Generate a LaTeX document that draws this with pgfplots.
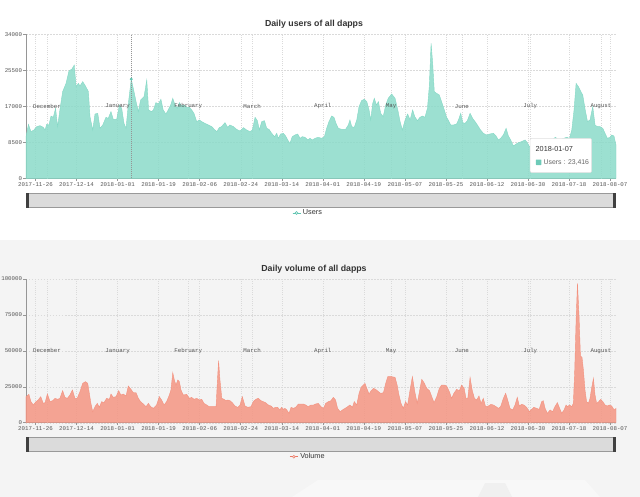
\documentclass[border=0pt]{standalone}
\usepackage{fontspec}
\setmainfont{Liberation Sans}
\newfontfamily\monofont{Liberation Mono}
\usepackage{pgfplots}
\usepackage{pgfplotstable}
\pgfplotsset{compat=1.18}

\definecolor{usersfill}{RGB}{139,219,201}
\definecolor{usersdark}{RGB}{94,196,176}
\definecolor{volfill}{RGB}{244,149,131}
\definecolor{voldark}{RGB}{235,120,100}
\definecolor{bggray}{RGB}{244,244,244}
\definecolor{axisgray}{RGB}{150,150,150}
\definecolor{gridgray}{RGB}{218,218,218}
\definecolor{monthgray}{RGB}{218,218,218}
\definecolor{labelgray}{RGB}{85,85,85}
\definecolor{titlegray}{RGB}{51,51,51}

% day index: 0 = 2017-11-26
\pgfplotstableread{
day users
-4.17 9800
-3.1 12750
-2.0 11010
-0.7 11400
0.5 12190
2.0 12430
3.4 12030
4.2 11400
4.9 12740
5.9 12590
6.8 14710
7.8 14400
8.8 16520
9.7 12190
10.7 16130
11.9 20460
13.4 22420
14.7 25400
15.9 25730
17.0 26750
17.8 21640
18.8 22420
19.5 21800
20.7 22820
21.9 21800
23.2 20460
23.9 14550
25.1 11400
26.1 15180
27.3 15340
28.3 11800
29.5 12590
30.9 14400
31.9 14160
33.1 15730
34.1 13930
35.6 13930
36.8 17310
37.8 16530
38.8 12980
39.7 11800
40.9 18490
42.0 23416
43.2 20460
44.1 18090
45.1 15740
46.1 18490
47.6 19280
48.8 23210
49.6 16130
50.9 15740
51.7 16130
52.8 17860
53.9 17550
55.0 18650
56.0 16130
57.2 15180
58.2 16130
59.3 17310
60.2 18880
61.2 17310
62.2 16530
63.1 17860
64.1 17070
65.1 17310
66.3 16760
67.5 16760
68.5 16130
69.5 15340
70.7 13380
71.9 13770
72.9 13380
74.3 12980
75.8 12590
77.3 12190
78.4 11560
79.5 11010
80.6 11960
81.6 12190
83.1 13140
84.3 12030
85.3 12590
86.8 12190
88.2 11560
89.7 11170
91.2 11960
92.6 11400
94.1 11010
95.1 11400
96.3 14400
97.3 13610
98.2 11400
99.2 13380
100.4 13610
101.4 11800
102.4 11560
103.6 10620
104.8 9830
105.8 10620
106.5 9440
107.5 10460
108.7 10620
109.7 9990
110.6 9050
111.6 8260
112.6 9830
113.8 10230
115.0 10460
116.0 9440
117.0 9830
118.2 9680
119.4 9050
120.4 9440
121.4 9050
122.6 9440
124.0 9680
125.5 9440
126.7 9830
127.7 11800
128.7 13380
129.9 14710
130.9 14400
131.8 12980
132.8 11800
134.3 11560
136.0 11560
137.2 12590
137.9 13770
138.7 12190
139.8 12030
140.9 13770
141.9 16920
143.0 18330
144.2 18650
145.3 18090
146.3 16130
147.0 13770
147.9 17700
148.6 18880
149.5 17310
150.4 18090
151.4 15340
152.5 14550
153.6 17310
154.7 18880
156.2 19910
157.7 18880
158.9 16130
159.9 13380
160.9 11400
162.1 13770
163.2 15180
164.3 13800
165.4 16130
166.4 14500
167.5 13610
168.6 14400
169.8 14710
170.8 14400
171.9 16520
172.7 21640
173.5 31860
174.2 27140
174.9 20460
175.9 20070
177.1 19670
178.1 18090
179.2 16290
180.3 14400
181.0 13770
182.1 12590
183.3 12590
184.7 12830
185.5 13770
186.5 15340
187.4 13140
188.4 12980
189.4 13610
190.6 15340
191.7 14160
192.8 13380
193.8 12590
195.0 11560
196.4 10620
197.9 10230
199.3 10460
200.8 10620
202.0 9990
203.0 9050
204.0 9440
205.2 10230
206.4 11800
207.4 9990
208.4 9050
209.6 7630
210.8 8100
211.8 8420
213.2 8660
214.7 9050
215.7 8420
216.6 7500
218.0 7800
220.0 8600
222.0 8300
224.0 8900
226.0 8700
228.0 9700
229.5 9000
231.0 9300
233.0 9700
234.2 9400
235.2 11400
236.2 16130
237.1 22420
238.1 21640
239.2 20460
240.0 19670
241.1 16130
242.1 13380
243.2 13770
244.4 16920
245.4 12590
246.4 12190
247.6 12190
248.8 11800
249.8 10620
250.8 9440
252.0 9680
252.7 10230
253.7 9990
254.6 7870
}\userstable

\pgfplotstableread{
day volume
-4.17 18100
-2.9 19720
-2.0 14640
-1.0 12320
0.2 14640
1.2 15800
2.3 18120
3.4 13470
4.2 13940
5.2 19970
6.4 14640
7.5 15330
8.6 16960
9.7 16260
10.7 16960
11.9 22290
12.9 17650
14.0 16960
15.1 19280
16.2 22750
17.3 16960
18.3 16960
19.5 21600
20.7 27400
21.9 28560
22.9 27400
23.6 20440
24.3 13470
25.1 7680
26.1 11160
27.1 13470
28.0 10690
29.0 14640
30.0 13940
31.2 16960
32.4 16260
33.1 19970
34.1 17650
35.3 18120
36.5 22290
37.4 19280
38.5 19970
39.7 18580
40.7 25530
41.9 23200
42.9 20880
44.1 20880
45.1 16960
46.1 14640
47.3 13010
48.5 11160
49.5 13470
50.5 11160
51.7 9990
53.1 12320
54.3 18120
55.3 15800
56.4 12320
57.5 14640
58.7 19280
59.4 22750
60.2 34800
60.9 29690
61.6 26210
62.4 29690
63.1 28560
63.8 22750
64.8 19280
66.3 19720
67.5 16960
68.5 17650
69.5 16260
70.7 16960
71.9 15800
72.9 16260
73.9 13470
75.1 12320
76.2 11160
77.3 11160
78.0 11160
79.2 11160
79.8 29690
80.3 43150
80.9 29690
81.7 16960
82.7 16260
83.5 15330
84.3 15800
85.3 15330
86.3 13940
87.5 11620
88.7 10690
89.7 12320
90.7 18120
91.9 11620
93.1 10690
94.5 11160
95.5 14640
96.6 16260
97.7 16960
98.9 15330
99.9 14640
100.9 13940
102.1 12320
103.3 11620
104.3 9990
105.3 10690
106.2 10690
107.2 8860
107.9 10690
108.7 9300
109.4 9990
110.2 8860
111.2 6520
112.1 10690
113.1 9990
114.1 10690
115.3 13010
116.4 13010
117.5 13010
118.5 12320
119.6 11160
120.8 12320
121.9 12320
122.9 13010
124.0 13470
125.2 11160
126.3 9990
127.3 13470
128.4 14640
129.6 15330
130.6 17650
131.6 15800
132.5 9990
133.6 7680
135.0 9300
136.5 10690
137.9 12320
139.0 10690
139.8 14640
140.9 12320
141.9 20440
142.8 24590
143.8 26210
144.5 27400
145.3 23890
146.3 19970
147.2 22290
148.2 23890
149.2 23200
150.4 21600
151.4 20440
152.6 20880
153.6 27400
154.5 32050
156.2 32050
157.7 31550
158.6 26210
159.4 19280
160.3 13470
161.3 9990
162.3 14640
163.2 12320
164.2 22000
165.3 32050
166.3 22000
167.4 13470
168.4 21600
169.4 30160
170.4 27850
171.6 23890
172.8 22290
173.8 18120
174.8 13940
176.0 18120
177.1 23890
178.1 26210
179.3 26210
180.3 25530
181.5 21600
182.5 16960
183.5 20440
184.7 23200
185.9 22290
186.9 26210
188.0 23890
188.8 16960
189.6 16960
190.6 31550
191.5 22750
192.5 16960
193.5 15800
194.5 18580
195.4 13470
196.4 16960
197.4 11160
198.6 11620
199.8 12780
200.8 12320
202.0 11160
203.0 9990
204.0 11160
205.2 16960
206.2 20440
207.1 15800
208.1 9990
209.3 8860
210.3 12320
211.3 17650
212.2 11620
213.2 12780
214.2 12320
215.4 10690
216.6 7680
217.6 9300
218.6 10690
219.8 9990
220.9 9300
222.0 14640
222.7 15330
223.5 9990
224.5 6520
225.7 8860
226.8 7680
227.8 11160
228.9 13940
229.7 10690
230.8 6520
231.8 8860
232.7 12320
233.3 11160
234.2 12320
235.2 11160
235.9 13470
236.5 36650
237.1 71450
237.7 96960
238.4 73770
239.0 46390
239.7 45470
240.3 36650
241.0 22750
241.7 14640
242.5 13470
243.2 16960
243.9 23890
244.7 30850
245.4 19280
246.1 13470
247.0 14640
247.9 16260
248.8 14640
249.8 12320
250.8 11620
251.7 12320
252.7 11620
253.8 8860
254.6 9990
}\volumetable

\tikzset{monthlabel/.style={font=\monofont\fontsize{5.8}{7}\selectfont, text=labelgray}}

\pgfplotsset{
  dapp/.style={
    scale only axis, width=590bp,
    xmin=-4.17, xmax=254.6, ymin=0,
    scaled y ticks=false, scaled x ticks=false,
    axis x line*=bottom, axis y line*=left,
    axis line style={draw=axisgray, line width=0.6bp, -},
    tick align=outside, major tick length=2.5bp,
    tick style={draw=axisgray, line width=0.5bp},
    xtick={0,18,...,252},
    xticklabels={2017-11-26,2017-12-14,2018-01-01,2018-01-19,2018-02-06,2018-02-24,2018-03-14,2018-04-01,2018-04-19,2018-05-07,2018-05-25,2018-06-12,2018-06-30,2018-07-18,2018-08-07},
    ticklabel style={font=\monofont\fontsize{5.8}{7}\selectfont, text=labelgray},
    xticklabel style={inner sep=1.5bp},
    yticklabel style={inner sep=1.2bp},
    grid=major,
    x grid style={draw=gridgray, dash pattern=on 0.8bp off 1.4bp, line width=0.4bp},
    y grid style={draw=gridgray, dash pattern=on 1.5bp off 1.5bp, line width=0.4bp},
    extra x ticks={5,36,67,95,126,156,187,217,248},
    extra x tick labels={},
    extra x tick style={grid=major, major grid style={solid, draw=monthgray, line width=0.5bp}, major tick length=0pt},
    clip=false,
    legend style={draw=none, fill=none, font=\fontsize{7.3}{8}\selectfont, text=titlegray,
      legend cell align=left, inner sep=0pt},
  },
}

\begin{document}
\begin{tikzpicture}
\path[use as bounding box] (0,0) rectangle (640bp,-497bp);
\fill[white] (0,0) rectangle (640bp,-240bp);
\fill[bggray] (0,-240bp) rectangle (640bp,-497bp);
\fill[white!35!bggray] (292bp,-497bp) -- (318bp,-480bp) -- (585bp,-480bp) -- (600bp,-497bp) -- cycle;
\fill[black!6] (478bp,-497bp) -- (485bp,-483bp) -- (505bp,-483bp) -- (512bp,-497bp) -- cycle;

% ---------- top chart ----------
\node[font=\bfseries\fontsize{8.8}{10}\selectfont, text=titlegray] at (314bp,-24bp) {Daily users of all dapps};
\begin{axis}[dapp, at={(26bp,-178.3bp)}, anchor=south west, height=144bp,
  ymax=34000, ytick={0,8500,17000,25500,34000},
  yticklabels={0,8500,17000,25500,34000},
  legend style={at={(0.478,-0.241)}, anchor=center},
  legend image code/.code={
    \draw[usersdark, line width=0.8bp] (0bp,0bp) -- (8bp,0bp);
    \draw[usersdark, fill=white, line width=0.6bp] (4bp,0bp) circle (1.4bp);}
  ]
\addplot[draw=usersfill!85!usersdark, line width=0.4bp, fill=usersfill, fill opacity=0.85]
  table[x=day, y=users] {\userstable} \closedcycle;
\addlegendentry{Users}
\draw[axisgray, dash pattern=on 1bp off 1bp, line width=0.5bp] (axis cs:42,0) -- (axis cs:42,34000);
\addplot[only marks, mark=*, mark size=1.3bp, color=usersdark, forget plot] coordinates {(42,23416)};
\node[monthlabel] at (axis cs:5,17000) {December};
\node[monthlabel] at (axis cs:36,17000) {January};
\node[monthlabel] at (axis cs:67,17000) {February};
\node[monthlabel] at (axis cs:95,17000) {March};
\node[monthlabel] at (axis cs:126,17000) {April};
\node[monthlabel] at (axis cs:156,17000) {May};
\node[monthlabel] at (axis cs:187,17000) {June};
\node[monthlabel] at (axis cs:217,17000) {July};
\node[monthlabel] at (axis cs:248,17000) {August};
\end{axis}
% tooltip
\draw[fill=white, draw=black!12, line width=0.5bp, rounded corners=1.5bp] (530bp,-138.3bp) rectangle (591.7bp,-172.7bp);
\node[anchor=west, inner sep=0pt, font=\fontsize{7.3}{8}\selectfont, text=titlegray] at (535.5bp,-148.5bp) {2018-01-07};
\fill[usersdark!90!white, rounded corners=0.5bp] (535.8bp,-159.5bp) rectangle (541.3bp,-165bp);
\node[anchor=west, inner sep=0pt, font=\fontsize{6.9}{8}\selectfont, text=black!60] at (543.5bp,-162.3bp) {Users : 23,416};
% slider
\fill[black!14] (26bp,-193bp) rectangle (616bp,-207bp);
\draw[black!40, line width=0.9bp] (26bp,-193bp) -- (616bp,-193bp);
\draw[black!40, line width=0.9bp] (26bp,-207bp) -- (616bp,-207bp);
\fill[black!75] (26bp,-192.5bp) rectangle (28.7bp,-207.5bp);
\fill[black!75] (613.3bp,-192.5bp) rectangle (616bp,-207.5bp);

% ---------- bottom chart ----------
\node[font=\bfseries\fontsize{8.8}{10}\selectfont, text=titlegray] at (314bp,-269bp) {Daily volume of all dapps};
\begin{axis}[dapp, at={(26bp,-422.7bp)}, anchor=south west, height=143.7bp,
  ymax=100000, ytick={0,25000,50000,75000,100000},
  yticklabels={0,25000,50000,75000,100000},
  legend style={at={(0.478,-0.237)}, anchor=center},
  legend image code/.code={
    \draw[voldark, line width=0.8bp] (0bp,0bp) -- (8bp,0bp);
    \draw[voldark, fill=white, line width=0.6bp] (4bp,0bp) circle (1.4bp);}
  ]
\addplot[draw=volfill!85!voldark, line width=0.4bp, fill=volfill, fill opacity=0.85]
  table[x=day, y=volume] {\volumetable} \closedcycle;
\addlegendentry{Volume}
\node[monthlabel] at (axis cs:5,50000) {December};
\node[monthlabel] at (axis cs:36,50000) {January};
\node[monthlabel] at (axis cs:67,50000) {February};
\node[monthlabel] at (axis cs:95,50000) {March};
\node[monthlabel] at (axis cs:126,50000) {April};
\node[monthlabel] at (axis cs:156,50000) {May};
\node[monthlabel] at (axis cs:187,50000) {June};
\node[monthlabel] at (axis cs:217,50000) {July};
\node[monthlabel] at (axis cs:248,50000) {August};
\end{axis}
% slider
\fill[black!14] (26bp,-437bp) rectangle (616bp,-451bp);
\draw[black!40, line width=0.9bp] (26bp,-437bp) -- (616bp,-437bp);
\draw[black!40, line width=0.9bp] (26bp,-451bp) -- (616bp,-451bp);
\fill[black!75] (26bp,-436.5bp) rectangle (28.7bp,-451.5bp);
\fill[black!75] (613.3bp,-436.5bp) rectangle (616bp,-451.5bp);
\end{tikzpicture}
\end{document}
